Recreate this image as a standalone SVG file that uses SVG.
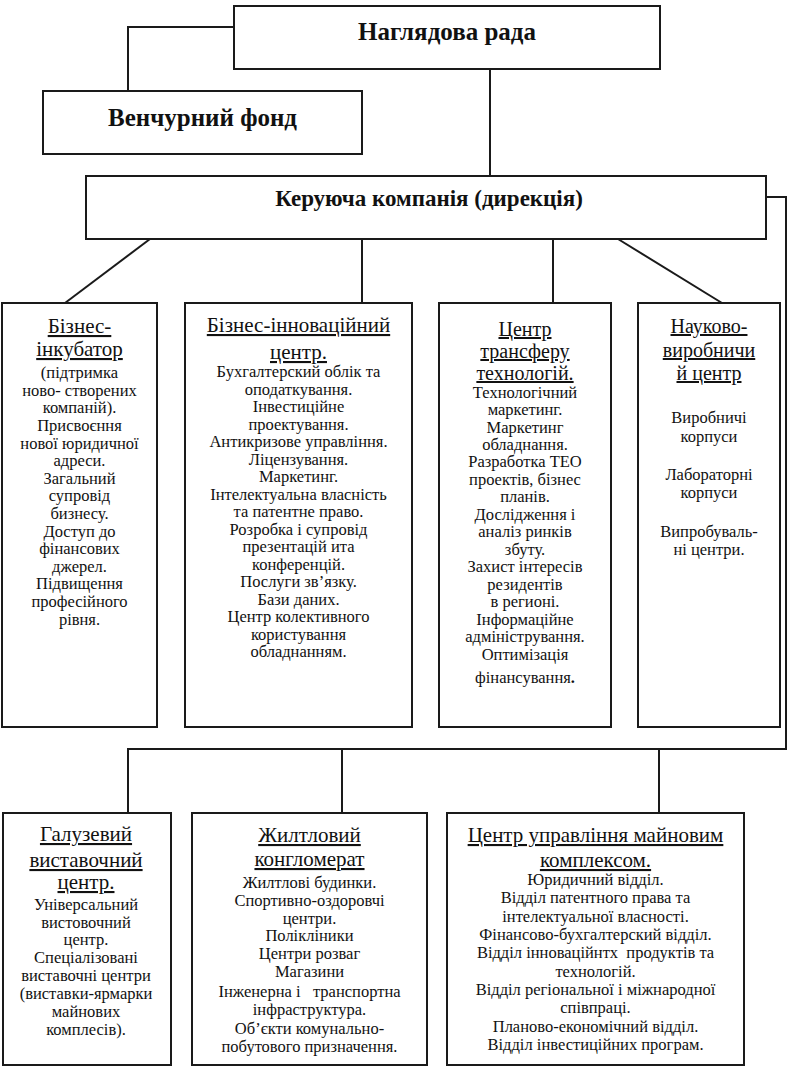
<svg xmlns="http://www.w3.org/2000/svg" width="793" height="1069" viewBox="0 0 793 1069">
<style>
rect.box{fill:#fff;stroke:#1a1a1a;stroke-width:2}
.conn path{fill:none;stroke:#1a1a1a;stroke-width:2}
text{font-family:"Liberation Serif","Times New Roman",serif;fill:#111;text-anchor:middle}
.head{font-weight:bold;font-size:25px}
.head2{font-weight:bold;font-size:23px}
.t{font-size:21px;text-decoration:underline}
.t20{font-size:20px;text-decoration:underline}
.b{font-size:16.5px}
</style>
<rect width="793" height="1069" fill="#fff"/>
<g class="conn" id="connectors">
<path d="M234,27 H128 V91"/>
<path d="M490,69 V176"/>
<path d="M150,239 L65,303"/>
<path d="M362,239 V303"/>
<path d="M553,239 V303"/>
<path d="M618,239 L722,303"/>
<path d="M766,197 H786 V749 H128 V813"/>
<path d="M342,749 V813"/>
<path d="M659,749 V813"/>
</g>
<g id="naglyadova">
<rect class="box" x="234" y="6" width="426" height="63"/>
<text class="head" x="447" y="40">Наглядова рада</text>
</g>
<g id="venchurnyi">
<rect class="box" x="43" y="91" width="319" height="63"/>
<text class="head" x="202.5" y="126">Венчурний фонд</text>
</g>
<g id="keruyucha">
<rect class="box" x="86" y="176" width="680" height="63"/>
<text class="head2" x="429" y="206">Керуюча компанія (дирекція)</text>
</g>
<g id="inkubator">
<rect class="box" x="2" y="303" width="155" height="424"/>
<text class="t" x="79.5" y="333">Бізнес-</text>
<text class="t" x="79.5" y="356">інкубатор</text>
<text class="b" x="79.5" y="378">(підтримка</text>
<text class="b" x="79.5" y="396">ново- створених</text>
<text class="b" x="79.5" y="413">компаній).</text>
<text class="b" x="79.5" y="431">Присвоєння</text>
<text class="b" x="79.5" y="449">нової юридичної</text>
<text class="b" x="79.5" y="466">адреси.</text>
<text class="b" x="79.5" y="484">Загальний</text>
<text class="b" x="79.5" y="501">супровід</text>
<text class="b" x="79.5" y="519">бизнесу.</text>
<text class="b" x="79.5" y="537">Доступ до</text>
<text class="b" x="79.5" y="554">фінансових</text>
<text class="b" x="79.5" y="572">джерел.</text>
<text class="b" x="79.5" y="589">Підвищення</text>
<text class="b" x="79.5" y="607">професійного</text>
<text class="b" x="79.5" y="625">рівня.</text>
</g>
<g id="innov-centre">
<rect class="box" x="185" y="303" width="227" height="424"/>
<text class="t" x="298.5" y="332">Бізнес-інноваційний</text>
<text class="t" x="298.5" y="359">центр.</text>
<text class="b" x="298.5" y="377">Бухгалтерский облік та</text>
<text class="b" x="298.5" y="394.5">оподаткування.</text>
<text class="b" x="298.5" y="412">Інвестиційне</text>
<text class="b" x="298.5" y="429.5">проектування.</text>
<text class="b" x="298.5" y="447">Антикризове управління.</text>
<text class="b" x="298.5" y="464.5">Ліцензування.</text>
<text class="b" x="298.5" y="482">Маркетинг.</text>
<text class="b" x="298.5" y="499.5">Інтелектуальна власність</text>
<text class="b" x="298.5" y="517">та патентне право.</text>
<text class="b" x="298.5" y="534.5">Розробка і супровід</text>
<text class="b" x="298.5" y="552">презентацій ита</text>
<text class="b" x="298.5" y="569.5">конференцій.</text>
<text class="b" x="298.5" y="587">Послуги зв’язку.</text>
<text class="b" x="298.5" y="604.5">Бази даних.</text>
<text class="b" x="298.5" y="622">Центр колективного</text>
<text class="b" x="298.5" y="639.5">користування</text>
<text class="b" x="298.5" y="657">обладнанням.</text>
</g>
<g id="transfer">
<rect class="box" x="439" y="303" width="172" height="424"/>
<text class="t20" x="525" y="336">Центр</text>
<text class="t20" x="525" y="358">трансферу</text>
<text class="t20" x="525" y="380">технологій.</text>
<text class="b" x="525" y="398">Технологічний</text>
<text class="b" x="525" y="415">маркетинг.</text>
<text class="b" x="525" y="432.5">Маркетинг</text>
<text class="b" x="525" y="450">обладнання.</text>
<text class="b" x="525" y="467">Разработка ТЕО</text>
<text class="b" x="525" y="484.5">проектів, бізнес</text>
<text class="b" x="525" y="502">планів.</text>
<text class="b" x="525" y="519.5">Дослідження  і</text>
<text class="b" x="525" y="537">аналіз ринків</text>
<text class="b" x="525" y="554.5">збуту.</text>
<text class="b" x="525" y="572">Захист інтересів</text>
<text class="b" x="525" y="589.5">резидентів</text>
<text class="b" x="525" y="607">в регионі.</text>
<text class="b" x="525" y="624.5">Інформаційне</text>
<text class="b" x="525" y="642">адміністрування.</text>
<text class="b" x="525" y="659.5">Оптимізація</text>
<text class="b" x="525" y="683">фінансування<tspan font-weight="bold">.</tspan></text>
</g>
<g id="nvc">
<rect class="box" x="638" y="303" width="142" height="424"/>
<text class="t20" x="709" y="333">Науково-</text>
<text class="t20" x="709" y="357">виробничи</text>
<text class="t20" x="709" y="380">й центр</text>
<text class="b" x="709" y="423">Виробничі</text>
<text class="b" x="709" y="442">корпуси</text>
<text class="b" x="709" y="480">Лабораторні</text>
<text class="b" x="709" y="498">корпуси</text>
<text class="b" x="709" y="537">Випробуваль-</text>
<text class="b" x="709" y="555">ні центри.</text>
</g>
<g id="exhibition">
<rect class="box" x="3" y="813" width="168" height="252"/>
<text class="t" x="86" y="841">Галузевий</text>
<text class="t" x="86" y="867">виставочний</text>
<text class="t" x="86" y="889">центр.</text>
<text class="b" x="86" y="910">Універсальний</text>
<text class="b" x="86" y="928">вистовочний</text>
<text class="b" x="86" y="945">центр.</text>
<text class="b" x="86" y="963">Спеціалізовані</text>
<text class="b" x="86" y="981">виставочні центри</text>
<text class="b" x="86" y="999">(виставки-ярмарки</text>
<text class="b" x="86" y="1017">майнових</text>
<text class="b" x="86" y="1035">комплесів).</text>
</g>
<g id="housing">
<rect class="box" x="192" y="813" width="235" height="252"/>
<text class="t" x="309.5" y="842">Жилтловий</text>
<text class="t" x="309.5" y="866">конгломерат</text>
<text class="b" x="309.5" y="888">Жилтлові будинки.</text>
<text class="b" x="309.5" y="906">Спортивно-оздоровчі</text>
<text class="b" x="309.5" y="924">центри.</text>
<text class="b" x="309.5" y="941">Полікліники</text>
<text class="b" x="309.5" y="959">Центри розваг</text>
<text class="b" x="309.5" y="977">Магазини</text>
<text class="b" x="309.5" y="997" xml:space="preserve">Інженерна і   транспортна</text>
<text class="b" x="309.5" y="1015">інфраструктура.</text>
<text class="b" x="309.5" y="1034">Об’єкти комунально-</text>
<text class="b" x="309.5" y="1052">побутового призначення.</text>
</g>
<g id="property">
<rect class="box" x="447" y="813" width="297" height="252"/>
<text class="t" x="595.5" y="842">Центр управління майновим</text>
<text class="t" x="595.5" y="867">комплексом.</text>
<text class="b" x="595.5" y="885">Юридичний відділ.</text>
<text class="b" x="595.5" y="903">Відділ патентного права та</text>
<text class="b" x="595.5" y="922">інтелектуальної власності.</text>
<text class="b" x="595.5" y="940">Фінансово-бухгалтерский відділ.</text>
<text class="b" x="595.5" y="958" xml:space="preserve">Відділ інноваційнтх  продуктів та</text>
<text class="b" x="595.5" y="977">технологій.</text>
<text class="b" x="595.5" y="995">Відділ регіональної і міжнародної</text>
<text class="b" x="595.5" y="1013">співпраці.</text>
<text class="b" x="595.5" y="1032">Планово-економічний відділ.</text>
<text class="b" x="595.5" y="1050">Відділ інвестиційних програм.</text>
</g>
</svg>
